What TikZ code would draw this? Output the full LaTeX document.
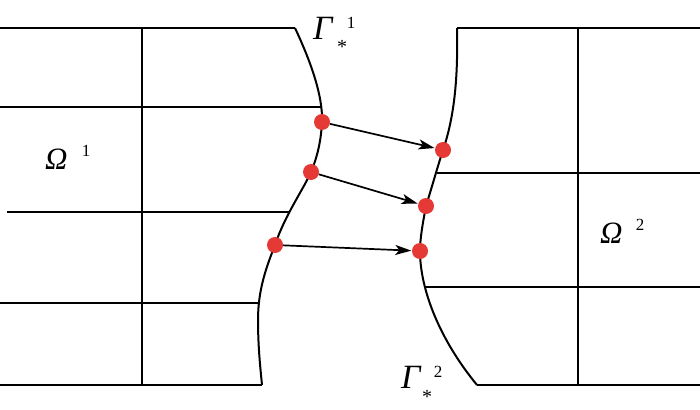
\documentclass[tikz,border=0pt]{standalone}
\usepackage{fontspec}
\setmainfont{Liberation Serif}
\usetikzlibrary{arrows.meta}
\definecolor{dotred}{RGB}{229,57,53}
\begin{document}
\begin{tikzpicture}[x=1pt,y=-1pt,
  edge/.style={line width=2pt, line join=round},
  pt/.style={circle, fill=dotred, inner sep=0pt, minimum size=16pt},
  flow/.style={line width=1.7pt, -{Stealth[length=16pt,width=10pt,inset=4pt]}, shorten >=0.5pt},
  bigG/.style={font=\fontsize{34}{34}\selectfont\itshape, inner sep=0pt, anchor=base west},
  bigO/.style={font=\fontsize{31}{31}\selectfont\itshape, inner sep=0pt, anchor=base west},
  supx/.style={font=\fontsize{17}{17}\selectfont, inner sep=0pt, anchor=base},
  star/.style={font=\fontsize{20}{20}\selectfont, inner sep=0pt, anchor=base}]
\useasboundingbox (0,0) rectangle (700,409);
% points on the interfaces
\coordinate (a1) at (322,122);
\coordinate (a2) at (311,172);
\coordinate (a3) at (275,245);
\coordinate (b1) at (443,150);
\coordinate (b2) at (426,206);
\coordinate (b3) at (420,251);
% left domain
\draw[edge] (0,28) -- (295,28);
\draw[edge] (0,107) -- (322,107);
\draw[edge] (7,212) -- (290,212);
\draw[edge] (0,303) -- (259,303);
\draw[edge] (0,385) -- (262,385);
\draw[edge] (142,28) -- (142,385);
\draw[edge] (295,28) .. controls (310,60) and (323,95) .. (a1)
  .. controls (321,140) and (318,155) .. (a2)
  .. controls (303,190) and (285,215) .. (a3)
  .. controls (266,268) and (258,290) .. (258,320)
  .. controls (258,345) and (260,365) .. (262,385);
% right domain
\draw[edge] (457,28) -- (700,28);
\draw[edge] (437,173) -- (700,173);
\draw[edge] (424,287) -- (700,287);
\draw[edge] (477,385) -- (700,385);
\draw[edge] (578,28) -- (578,385);
\draw[edge] (457,28) .. controls (458,75) and (455,115) .. (b1)
  .. controls (439,162) and (431,190) .. (b2)
  .. controls (423,222) and (420,238) .. (b3)
  .. controls (420,290) and (440,340) .. (477,385);
% dots
\node[pt] (p1) at (a1) {};
\node[pt] (p2) at (a2) {};
\node[pt] (p3) at (a3) {};
\node[pt] (q1) at (b1) {};
\node[pt] (q2) at (b2) {};
\node[pt] (q3) at (b3) {};
% transfer arrows
\draw[flow] (p1) -- (q1);
\draw[flow] (p2) -- (q2);
\draw[flow] (p3) -- (q3);
% labels
\node[bigG] (G1) at (313,40) {Γ};
\node[supx] (G1s) at (351,29) {1};
\node[star] (G1t) at (342,54) {*};
\node[bigG] (G2) at (401,388) {Γ};
\node[supx] (G2s) at (438,377) {2};
\node[star] (G2t) at (427,403) {*};
\node[bigO] (O1) at (45,169) {Ω};
\node[supx] (O1s) at (86,156) {1};
\node[bigO] (O2) at (600,243) {Ω};
\node[supx] (O2s) at (640,230) {2};
\end{tikzpicture}
\end{document}
